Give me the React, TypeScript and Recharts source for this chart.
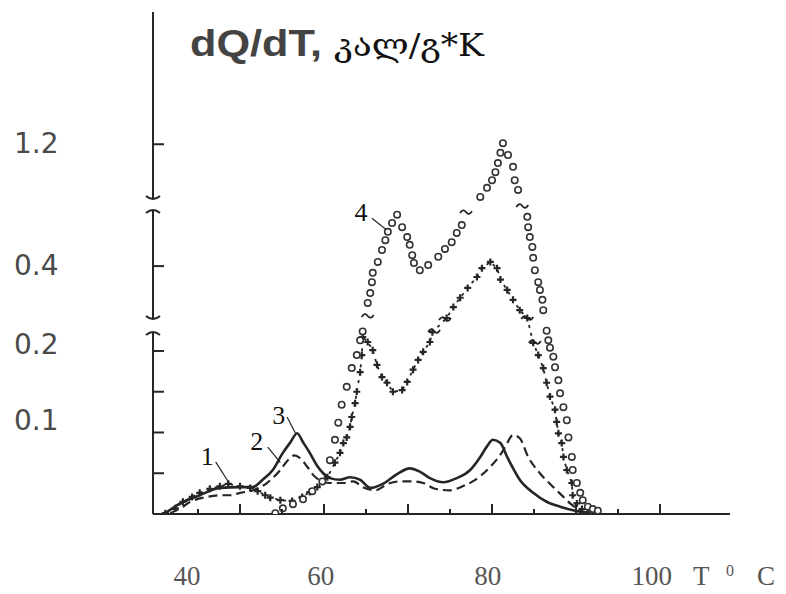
import React from 'react';
import { LineChart, Line, XAxis, YAxis, ReferenceLine, ReferenceDot } from 'recharts';

// ---- data: temperature (°C) and dQ/dT readings ----
// curve 1 (crosses)
const curve1T = [36.1, 37.3, 38.2, 39.3, 40.2, 41.4, 42.6, 43.6, 45.0, 46.2, 47.1, 48.0, 48.6, 49.8, 51.2, 52.4, 53.3, 54.2, 55.4, 56.3, 56.9, 57.3, 57.7, 58.1, 58.3, 58.7, 58.9, 59.3, 59.5, 59.6, 60.2, 60.8, 61.3, 61.9, 62.5, 63.2, 64.3, 64.9, 65.6, 66.2, 66.8, 67.6, 67.9, 69.6, 70.4, 71.2, 72.1, 73.2, 73.8, 74.8, 75.6, 76.0, 76.8, 77.5, 78.3, 79.2, 79.9, 80.5, 81.1, 81.5, 81.9, 82.5, 82.7, 82.9, 83.3, 83.5, 83.9, 84.5, 84.6, 85.1, 85.7, 86.4];
const curve1V = [0.001, 0.007, 0.015, 0.021, 0.026, 0.031, 0.034, 0.037, 0.034, 0.032, 0.028, 0.023, 0.020, 0.017, 0.016, 0.021, 0.027, 0.033, 0.045, 0.063, 0.075, 0.087, 0.094, 0.107, 0.119, 0.136, 0.150, 0.174, 0.195, 0.217, 0.211, 0.201, 0.183, 0.168, 0.161, 0.150, 0.152, 0.162, 0.177, 0.189, 0.199, 0.211, 0.223, 0.300, 0.321, 0.339, 0.358, 0.379, 0.396, 0.408, 0.396, 0.374, 0.354, 0.335, 0.315, 0.300, 0.210, 0.195, 0.179, 0.161, 0.144, 0.128, 0.113, 0.099, 0.087, 0.070, 0.054, 0.038, 0.023, 0.013, 0.006, 0.002];
// curve 2 (dashed)
const curve2T = [36.7, 37.9, 39.1, 41.1, 42.6, 43.8, 45.0, 46.5, 48.2, 49.8, 50.7, 51.5, 52.1, 53.0, 53.7, 54.8, 55.7, 57.3, 58.5, 59.6, 61.1, 62.6, 64.0, 65.6, 66.8, 68.2, 70.0, 71.5, 72.7, 74.8, 76.2, 76.8, 77.5, 78.3, 79.3, 80.7, 82.3, 83.5, 84.3, 85.2, 86.1];
const curve2V = [0.001, 0.007, 0.015, 0.021, 0.023, 0.023, 0.026, 0.029, 0.038, 0.054, 0.066, 0.072, 0.069, 0.058, 0.048, 0.040, 0.038, 0.038, 0.040, 0.033, 0.029, 0.037, 0.040, 0.040, 0.038, 0.031, 0.029, 0.034, 0.040, 0.058, 0.076, 0.087, 0.097, 0.093, 0.070, 0.050, 0.033, 0.021, 0.013, 0.006, 0.002];
// curve 3 (solid)
const curve3T = [36.1, 37.9, 40.2, 42.6, 45.0, 46.5, 47.7, 48.9, 50.1, 51.0, 51.8, 52.5, 53.3, 54.2, 54.9, 55.7, 56.9, 58.1, 59.3, 60.5, 62.0, 63.7, 65.2, 66.4, 67.6, 69.2, 70.8, 72.4, 73.6, 74.4, 75.1, 76.0, 76.8, 77.4, 78.3, 79.9, 81.5, 83.1, 84.9, 86.7];
const curve3V = [0.001, 0.013, 0.023, 0.032, 0.033, 0.033, 0.042, 0.054, 0.075, 0.088, 0.099, 0.088, 0.075, 0.059, 0.050, 0.044, 0.042, 0.045, 0.042, 0.032, 0.037, 0.049, 0.056, 0.052, 0.044, 0.039, 0.044, 0.054, 0.070, 0.083, 0.091, 0.087, 0.070, 0.058, 0.042, 0.026, 0.015, 0.009, 0.004, 0.001];
// curve 4 (circles)
const curve4T = [49.2, 50.1, 51.3, 52.5, 53.6, 54.8, 55.7, 56.3, 56.7, 57.1, 57.7, 58.3, 58.9, 59.3, 59.6, 60.2, 60.5, 60.7, 60.8, 61.4, 61.9, 62.3, 62.6, 63.1, 63.7, 64.3, 64.9, 65.2, 65.5, 65.7, 66.4, 67.4, 68.6, 69.4, 70.2, 70.8, 71.4, 73.6, 74.4, 75.0, 75.4, 75.7, 76.0, 76.3, 76.9, 77.5, 77.7, 78.1, 79.2, 79.3, 79.5, 79.8, 79.9, 80.1, 80.5, 80.7, 81.0, 81.1, 81.5, 81.7, 81.9, 82.3, 82.5, 82.9, 83.1, 83.5, 83.9, 84.1, 84.5, 84.6, 85.1, 85.5, 85.8, 86.4, 87.0, 87.6];
const curve4V = [0.001, 0.007, 0.012, 0.018, 0.028, 0.040, 0.066, 0.091, 0.112, 0.134, 0.156, 0.179, 0.195, 0.213, 0.224, 0.329, 0.348, 0.369, 0.387, 0.408, 0.431, 0.450, 0.466, 0.483, 0.499, 0.475, 0.456, 0.441, 0.421, 0.406, 0.392, 0.402, 0.418, 0.433, 0.446, 0.464, 0.479, 1.102, 1.119, 1.133, 1.148, 1.165, 1.184, 1.202, 1.180, 1.158, 1.133, 1.115, 0.495, 0.475, 0.456, 0.437, 0.416, 0.392, 0.369, 0.354, 0.335, 0.315, 0.226, 0.213, 0.204, 0.193, 0.180, 0.164, 0.148, 0.131, 0.115, 0.094, 0.070, 0.054, 0.038, 0.026, 0.017, 0.009, 0.006, 0.004];

// axis ticks and labels
const tempTicks = [40, 45, 50, 55, 60, 65, 70, 75, 80, 85, 90, 95];
const tempMajorTicks = [45, 55, 65, 75, 85, 95];
const xLabels = ['40', '60', '80', '100'];
const yMarkValues = [0.05, 0.1, 0.15, 0.2, 0.4, 1.2];
const yLabelValues = [0.1, 0.2, 0.4, 1.2];
const yLabels = ['0.1', '0.2', '0.4', '1.2'];

// curve number annotations: label point and leader line (T, dQ/dT)
const noteNames = ['1', '2', '3', '4'];
const noteT = [41.1, 47.0, 49.6, 59.4];
const noteV = [0.071, 0.090, 0.122, 0.504];
const leadFromT = [42.1, 48.3, 50.6, 60.7];
const leadFromV = [0.064, 0.082, 0.119, 0.492];
const leadToT = [43.7, 49.8, 51.6, 62.5];
const leadToV = [0.038, 0.063, 0.099, 0.469];
// break marks (~) on curves
const breakT = [60.2, 68.1, 69.4, 79.2, 80.1, 71.9, 78.6];
const breakV = [0.304, 0.2245, 0.294, 0.300, 0.211, 0.504, 0.671];

// ---- broken y axis: piecewise linear map value -> axis units ----
const VALUE_KNOTS = [0, 0.2245, 0.3, 0.51, 1.1, 1.446];
const AXIS_KNOTS = [0, 1.83, 1.96, 3.05, 3.16, 5.02];
const AXIS_SEGMENTS: [number, number][] = [[0, 1.82], [1.95, 3.04], [3.15, 5.02]];
const toAxis = (v: number): number => {
  for (let i = 0; i < VALUE_KNOTS.length - 1; i++) {
    const a = VALUE_KNOTS[i], b = VALUE_KNOTS[i + 1];
    if (v <= b || i === VALUE_KNOTS.length - 2) {
      return AXIS_KNOTS[i] + ((v - a) / (b - a)) * (AXIS_KNOTS[i + 1] - AXIS_KNOTS[i]);
    }
  }
  return 0;
};

// layout constants
const X_DOMAIN: [number, number] = [34.64, 103.33];
const Y_DOMAIN: [number, number] = [0, 5.02];
const X_LABEL_AT = [38.7, 54.6, 74.5, 94.0];
const Y_LABEL_NUDGE = [0.125, 0.07, 0.015, 0.01];

const rows = (ts: number[], vs: number[]) => ts.map((t, i) => ({ t, y: toAxis(vs[i]) }));
const data1 = rows(curve1T, curve1V);
const data2 = rows(curve2T, curve2V);
const data3 = rows(curve3T, curve3V);
const data4 = rows(curve4T, curve4V);

const xLabelMap = new Map<number, string>(X_LABEL_AT.map((t, i) => [t, xLabels[i]]));
const xTicks = [...tempTicks, ...X_LABEL_AT];
const yMarkTicks = yMarkValues.map(toAxis);
const yLabelTicks = yLabelValues.map((v, i) => toAxis(v) + Y_LABEL_NUDGE[i]);
const yLabelMap = new Map<number, string>(yLabelTicks.map((t, i) => [t, yLabels[i]]));
const yTicks = [...yMarkTicks, ...yLabelTicks];

const INK = '#262626';

const XTick = (props: any) => {
  const { x, y, payload } = props;
  const v = payload.value;
  const lbl = xLabelMap.get(v);
  if (lbl) {
    return (
      <text x={x} y={y + 71} textAnchor="middle" fontFamily="'Liberation Serif', serif" fontSize={27} fill="#555">
        {lbl}
      </text>
    );
  }
  const len = tempMajorTicks.includes(v) ? 10 : 5;
  return <line x1={x} x2={x} y1={y} y2={y - len} stroke={INK} strokeWidth={2} />;
};

const YTick = (props: any) => {
  const { x, y, payload } = props;
  const v = payload.value;
  const lbl = yLabelMap.get(v);
  if (lbl) {
    return (
      <text x={14} y={y + 10} textAnchor="start" fontFamily="'DejaVu Sans', sans-serif" fontSize={28} fill="#4a4a4a">
        {lbl}
      </text>
    );
  }
  return <line x1={x} x2={x + 11} y1={y} y2={y} stroke={INK} strokeWidth={2} />;
};

const CrossDot = (props: any) => {
  const { cx, cy, index } = props;
  if (cx == null || cy == null) return <g key={index} />;
  return (
    <path
      key={index}
      d={`M${cx - 3.5},${cy}h7M${cx},${cy - 3.5}v7`}
      stroke={INK}
      strokeWidth={2.2}
      fill="none"
    />
  );
};

const AxisSegment = (props: any) => {
  const { x1, y1, x2, y2, segIndex } = props;
  const top = Math.min(y1, y2);
  const bottom = Math.max(y1, y2);
  const hasTopHook = segIndex < AXIS_SEGMENTS.length - 1;
  const hasBottomHook = segIndex > 0;
  return (
    <g>
      <line x1={x1} x2={x2} y1={top} y2={bottom} stroke={INK} strokeWidth={2} />
      {hasTopHook && (
        <path d={`M${x1 - 7},${top + 3} Q${x1},${top - 3} ${x1 + 7},${top + 3}`} stroke={INK} strokeWidth={2} fill="none" />
      )}
      {hasBottomHook && (
        <path d={`M${x1 - 7},${bottom - 3} Q${x1},${bottom + 3} ${x1 + 7},${bottom - 3}`} stroke={INK} strokeWidth={2} fill="none" />
      )}
    </g>
  );
};

export default function App() {
  return (
    <div style={{ position: 'absolute', left: 0, top: 0, width: 786, height: 594, background: '#fff' }}>
      <LineChart width={786} height={594} margin={{ top: 12, right: 56, bottom: 79, left: 152 }}>
        <XAxis
          dataKey="t"
          type="number"
          domain={X_DOMAIN}
          ticks={xTicks}
          interval={0}
          tick={XTick}
          tickLine={false}
          tickSize={0}
          tickMargin={0}
          height={1}
          axisLine={{ stroke: INK, strokeWidth: 2 }}
          allowDataOverflow
        />
        <YAxis
          type="number"
          domain={Y_DOMAIN}
          ticks={yTicks}
          interval={0}
          tick={YTick}
          tickLine={false}
          tickSize={0}
          tickMargin={0}
          width={1}
          axisLine={false}
          allowDataOverflow
        />
        {AXIS_SEGMENTS.map((s, i) => (
          <ReferenceLine
            key={`seg${i}`}
            segment={[{ x: X_DOMAIN[0], y: s[0] }, { x: X_DOMAIN[0], y: s[1] }]}
            ifOverflow="visible"
            shape={(p: any) => <AxisSegment {...p} segIndex={i} />}
          />
        ))}
        <Line data={data3} dataKey="y" type="monotone" stroke={INK} strokeWidth={2.6} dot={false} isAnimationActive={false} />
        <Line data={data2} dataKey="y" type="monotone" stroke={INK} strokeWidth={2.2} strokeDasharray="9 5" dot={false} isAnimationActive={false} />
        <Line data={data1} dataKey="y" type="linear" stroke={INK} strokeWidth={1.8} strokeDasharray="3 5" dot={CrossDot} isAnimationActive={false} />
        <Line
          data={data4}
          dataKey="y"
          type="linear"
          stroke="none"
          dot={{ r: 3.2, stroke: '#333', strokeWidth: 1.6, fill: '#fff' }}
          isAnimationActive={false}
        />
        {noteNames.map((n, i) => (
          <ReferenceLine
            key={`lead${i}`}
            segment={[{ x: leadFromT[i], y: toAxis(leadFromV[i]) }, { x: leadToT[i], y: toAxis(leadToV[i]) }]}
            stroke={INK}
            strokeWidth={1.2}
            ifOverflow="visible"
          />
        ))}
        {noteNames.map((n, i) => (
          <ReferenceDot
            key={`note${i}`}
            x={noteT[i]}
            y={toAxis(noteV[i])}
            r={0}
            ifOverflow="visible"
            shape={(p: any) => (
              <text x={p.cx} y={p.cy + 9} textAnchor="middle" fontFamily="'Liberation Serif', serif" fontSize={26} fill="#111">
                {n}
              </text>
            )}
          />
        ))}
        {breakT.map((t, i) => (
          <ReferenceDot
            key={`brk${i}`}
            x={t}
            y={toAxis(breakV[i])}
            r={0}
            ifOverflow="visible"
            shape={(p: any) => (
              <path
                d={`M${p.cx - 6},${p.cy + 1} q3,-5 6,-1 q3,4 6,-1`}
                stroke={INK}
                strokeWidth={1.8}
                fill="none"
              />
            )}
          />
        ))}
      </LineChart>
      <svg width={786} height={594} style={{ position: 'absolute', left: 0, top: 0, pointerEvents: 'none' }}>
        <text
          x={190}
          y={56}
          fontFamily="'Liberation Sans', Arial, sans-serif"
          fontWeight="bold"
          fontSize={37}
          fill="#444"
          textLength={132}
          lengthAdjust="spacingAndGlyphs"
        >
          dQ/dT,
        </text>
        <text
          x={334}
          y={56}
          fontFamily="'DejaVu Serif', 'Liberation Serif', serif"
          fontSize={32}
          fill="#111"
          textLength={150}
          lengthAdjust="spacingAndGlyphs"
        >
          კალ/გ*K
        </text>
        <text x={693} y={585} fontFamily="'Liberation Serif', serif" fontSize={27} fill="#555">T</text>
        <text x={726} y={576} fontFamily="'Liberation Serif', serif" fontSize={16} fill="#555">0</text>
        <text x={757} y={585} fontFamily="'Liberation Serif', serif" fontSize={27} fill="#555">C</text>
      </svg>
    </div>
  );
}
